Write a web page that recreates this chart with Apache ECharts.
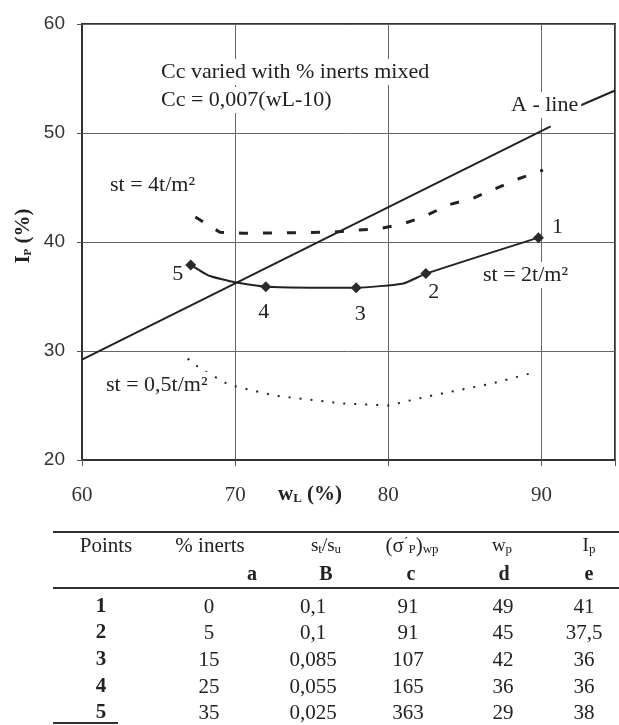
<!DOCTYPE html>
<html><head><meta charset="utf-8">
<script src="https://cdn.jsdelivr.net/npm/echarts@6/dist/echarts.min.js"></script>
<style>html,body{margin:0;padding:0;background:#fff}#c{width:619px;height:725px}</style>
</head><body><div id="c"></div>
<script>
// ---- data ----
const xTicks = [60, 70, 80, 90];
const yTicks = [20, 30, 40, 50, 60];
const aLine = [[60, 29.2], [90.6, 50.6]];
const aLineTail = [[92.5, 52.5], [94.8, 53.9]];
const st2Curve = [[67.1, 37.9], [68.3, 36.9], [70, 36.3], [72, 35.9], [77.9, 35.8], [81, 36.2], [82.45, 37.1], [89.8, 40.4]];
const st2Points = [[89.8, 40.4], [82.45, 37.1], [77.9, 35.8], [72, 35.9], [67.1, 37.9]];
const pointIds = ['1', '2', '3', '4', '5'];
const st4Curve = [[67.4, 42.3], [69, 40.9], [70.5, 40.8], [76.4, 40.9], [78, 41.1], [79.3, 41.2], [80.8, 41.6], [82.3, 42.3], [83.9, 43.4], [85.5, 44.0], [87, 44.9], [88.5, 45.8], [90.1, 46.6]];
const st05Curve = [[66.9, 29.3], [67.7, 28.4], [69.6, 26.9], [72.6, 25.9], [76.9, 25.2], [80, 25.0], [82.8, 25.9], [86.7, 27.0], [89.7, 28.1]];

const colPoints = ['1', '2', '3', '4', '5'];
const colInerts = ['0', '5', '15', '25', '35'];
const colStSu = ['0,1', '0,1', '0,085', '0,055', '0,025'];
const colSigma = ['91', '91', '107', '165', '363'];
const colWp = ['49', '45', '42', '36', '29'];
const colIp = ['41', '37,5', '36', '36', '38'];
const subHead = ['a', 'B', 'c', 'd', 'e'];

// ---- layout / style ----
const SERIF = '"Liberation Serif","Times New Roman",serif';
const SANS = '"Liberation Sans",Arial,sans-serif';
const INK = '#222';
const labelOffsets = [[19, -10], [8, 19], [4, 26], [-2, 26], [-13, 9]];

const chart = echarts.init(document.getElementById('c'), null, {renderer: 'canvas'});

function txt(text, x, y, opt) {
  opt = opt || {};
  return {
    type: 'text', z: 100, x: x, y: y, rotation: opt.rotation || 0,
    style: Object.assign({
      text: text, font: (opt.weight || 'normal') + ' ' + (opt.size || 21) + 'px ' + (opt.family || SERIF),
      fill: INK, align: opt.align || 'left', verticalAlign: 'middle'
    }, opt.bg ? {backgroundColor: '#fff', padding: [2, 3]} : {}, opt.rich ? {rich: opt.rich} : {})
  };
}
function hline(x1, x2, y, w) {
  return {type: 'line', z: 100, shape: {x1: x1, y1: y, x2: x2, y2: y}, style: {stroke: '#333', lineWidth: w || 1.5}};
}

const graphics = [];
graphics.push(txt('Cc varied with % inerts mixed', 158, 72, {bg: true, size: 22}));
graphics.push(txt('Cc = 0,007(wL-10)', 158, 100, {bg: true, size: 22}));
graphics.push(txt('A - line', 508, 105, {bg: true, size: 22}));
graphics.push(txt('st = 4t/m²', 107, 185, {bg: true, size: 22}));
graphics.push(txt('st = 2t/m²', 480, 275, {bg: true, size: 22}));
graphics.push(txt('st = 0,5t/m²', 103, 385, {bg: true, size: 22}));
// axis names
graphics.push(txt('{b|w}{s|L}{b| (%)}', 278, 495, {rich: {
  b: {font: 'bold 21px ' + SERIF, fill: INK},
  s: {font: 'bold 13px ' + SERIF, fill: INK, padding: [8, 0, 0, 0]}
}}));
graphics.push(txt('{b|I}{s|P}{b| (%)}', 24, 236, {align: 'center', rotation: Math.PI / 2, rich: {
  b: {font: 'bold 21px ' + SERIF, fill: INK},
  s: {font: 'bold 11px ' + SERIF, fill: INK, padding: [8, 0, 0, 0]}
}}));

// table
const colX = [101, 209, 313, 408, 503, 584];
const rowY = [607, 633, 660, 687, 713];
graphics.push(hline(53, 619, 532, 2));
graphics.push(hline(53, 619, 588, 2));
graphics.push(hline(53, 118, 723, 2));
const subRich = {
  n: {font: '21px ' + SERIF, fill: INK},
  m: {font: '19px ' + SERIF, fill: INK},
  s: {font: '13px ' + SERIF, fill: INK, padding: [7, 0, 0, 0]},
  u: {font: '14px ' + SERIF, fill: INK, padding: [0, 0, 6, 0]}
};
graphics.push(txt('{n|Points}', 106, 546, {align: 'center', rich: subRich}));
graphics.push(txt('{n|% inerts}', 210, 546, {align: 'center', rich: subRich}));
graphics.push(txt('{m|s}{s|t}{m|/s}{s|u}', 326, 546, {align: 'center', rich: subRich}));
graphics.push(txt('{n|(σ}{u|´}{s|P}{n|)}{s|wp}', 412, 546, {align: 'center', rich: subRich}));
graphics.push(txt('{m|w}{s|p}', 502, 546, {align: 'center', rich: subRich}));
graphics.push(txt('{m|I}{s|p}', 589, 546, {align: 'center', rich: subRich}));
const subX = [252, 326, 411, 504, 589];
subHead.forEach((s, i) => graphics.push(txt(s, subX[i], 575, {align: 'center', weight: 'bold', size: 20})));
const cols = [colPoints, colInerts, colStSu, colSigma, colWp, colIp];
cols.forEach((col, ci) => col.forEach((v, ri) => {
  graphics.push(txt(v, colX[ci], rowY[ri], {align: 'center', size: 21, weight: ci === 0 ? 'bold' : 'normal'}));
}));

const lineBase = {type: 'line', showSymbol: false, symbol: 'none', silent: true, animation: false};

chart.setOption({
  backgroundColor: '#fff',
  animation: false,
  grid: {left: 82, right: 4, top: 24, bottom: 265, show: true, borderColor: '#333', borderWidth: 2},
  xAxis: {
    type: 'value', min: 60, max: 94.8, interval: 10,
    axisLine: {show: true, lineStyle: {color: '#333', width: 2}},
    axisTick: {show: true, length: 6, lineStyle: {color: '#555'}},
    splitLine: {show: true, lineStyle: {color: '#666', width: 1}},
    axisLabel: {margin: 25, fontFamily: SERIF, fontSize: 21, color: '#333',
      formatter: v => xTicks.indexOf(v) >= 0 ? String(v) : ''}
  },
  yAxis: {
    type: 'value', min: 20, max: 60, interval: 10,
    axisLine: {show: true, lineStyle: {color: '#333', width: 2}},
    axisTick: {show: true, length: 5, lineStyle: {color: '#555'}},
    splitLine: {show: true, lineStyle: {color: '#666', width: 1}},
    axisLabel: {margin: 17, fontFamily: SANS, fontSize: 19, color: '#333',
      formatter: v => yTicks.indexOf(v) >= 0 ? String(v) : ''}
  },
  series: [
    Object.assign({}, lineBase, {name: 'A-line', data: aLine, lineStyle: {color: INK, width: 2}}),
    Object.assign({}, lineBase, {name: 'A-line tail', data: aLineTail, lineStyle: {color: INK, width: 2}}),
    Object.assign({}, lineBase, {name: 'st=4', data: st4Curve, lineStyle: {color: INK, width: 3, type: [9, 15]}}),
    Object.assign({}, lineBase, {name: 'st=0.5', data: st05Curve, lineStyle: {color: INK, width: 2, type: [2, 9]}}),
    Object.assign({}, lineBase, {name: 'st=2', data: st2Curve, smooth: 0.15, lineStyle: {color: INK, width: 2}}),
    {
      type: 'scatter', name: 'points', symbol: 'diamond', symbolSize: 11, z: 5,
      itemStyle: {color: '#2a2a2a', opacity: 1},
      data: st2Points.map((p, i) => ({
        value: p,
        label: {show: true, formatter: pointIds[i], position: 'inside', offset: labelOffsets[i],
          fontFamily: SERIF, fontSize: 22, color: INK, opacity: 1, textBorderWidth: 0, textBorderColor: 'transparent'}
      }))
    }
  ],
  graphic: graphics
});
</script>
</body></html>
